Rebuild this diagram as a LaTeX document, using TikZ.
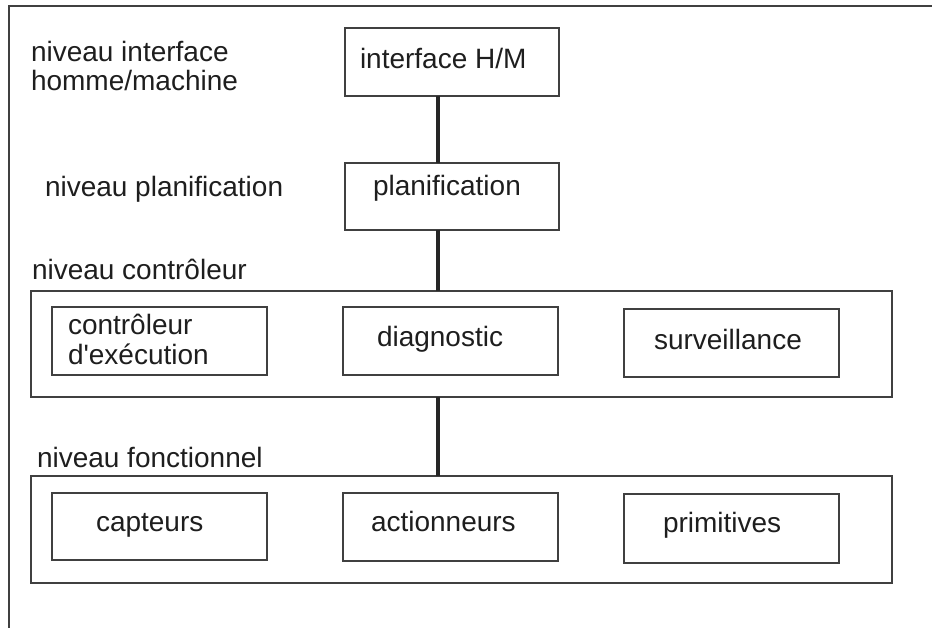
\documentclass[tikz,border=0pt]{standalone}
\usepackage{fontspec}
\setmainfont{Liberation Sans}
\definecolor{boxline}{HTML}{404040}
\definecolor{connline}{HTML}{262626}
\definecolor{textcol}{HTML}{1E1E1E}
\tikzset{
  frameline/.style={draw=boxline, line width=1.8pt},
  boxnode/.style={draw=boxline, line width=1.6pt, anchor=north west, inner sep=0pt, outer sep=0pt},
  connector/.style={draw=connline, line width=4pt},
  lbl/.style={anchor=base west, inner sep=0pt, outer sep=0pt, text=textcol, font=\fontsize{28}{29}\selectfont}
}
\begin{document}
\begin{tikzpicture}[x=1pt,y=-1pt]
\useasboundingbox (0,0) rectangle (932,628);
% outer frame (continues past the right and bottom edges)
\draw[frameline] (940,6) -- (9,6) -- (9,640);

% level labels
\node[lbl] (l1a) at (31,62) {niveau interface};
\node[lbl] (l1b) at (31,91) {homme/machine};
\node[lbl] (l2) at (45,197) {niveau planification};
\node[lbl] (l3) at (32,280) {niveau contrôleur};
\node[lbl] (l4) at (37,467) {niveau fonctionnel};

% boxes
\node[boxnode, minimum width=214pt, minimum height=68pt] (ihm) at (345,28) {};
\node[boxnode, minimum width=214pt, minimum height=67pt] (plan) at (345,163) {};
\node[boxnode, minimum width=861pt, minimum height=106pt] (ctrl) at (31,291) {};
\node[boxnode, minimum width=215pt, minimum height=68pt] (exec) at (52,307) {};
\node[boxnode, minimum width=215pt, minimum height=68pt] (diag) at (343,307) {};
\node[boxnode, minimum width=215pt, minimum height=68pt] (surv) at (624,309) {};
\node[boxnode, minimum width=861pt, minimum height=107pt] (fonc) at (31,476) {};
\node[boxnode, minimum width=215pt, minimum height=67pt] (capt) at (52,493) {};
\node[boxnode, minimum width=215pt, minimum height=68pt] (act) at (343,493) {};
\node[boxnode, minimum width=215pt, minimum height=69pt] (prim) at (624,494) {};

% box texts
\node[lbl] (tihm) at (360,69) {interface H/M};
\node[lbl] (tplan) at (373,196) {planification};
\node[lbl] (texa) at (68,335) {contrôleur};
\node[lbl] (texb) at (68,365) {d\textquotesingle exécution};
\node[lbl] (tdiag) at (377,347) {diagnostic};
\node[lbl] (tsurv) at (654,349) {surveillance};
\node[lbl] (tcapt) at (96,531) {capteurs};
\node[lbl] (tact) at (371,531) {actionneurs};
\node[lbl] (tprim) at (663,532) {primitives};

% connectors
\coordinate (lx) at (438,0);
\draw[connector] (ihm.south -| lx) -- (plan.north -| lx);
\draw[connector] (plan.south -| lx) -- (ctrl.north -| lx);
\draw[connector] (ctrl.south -| lx) -- (fonc.north -| lx);
\end{tikzpicture}
\end{document}
